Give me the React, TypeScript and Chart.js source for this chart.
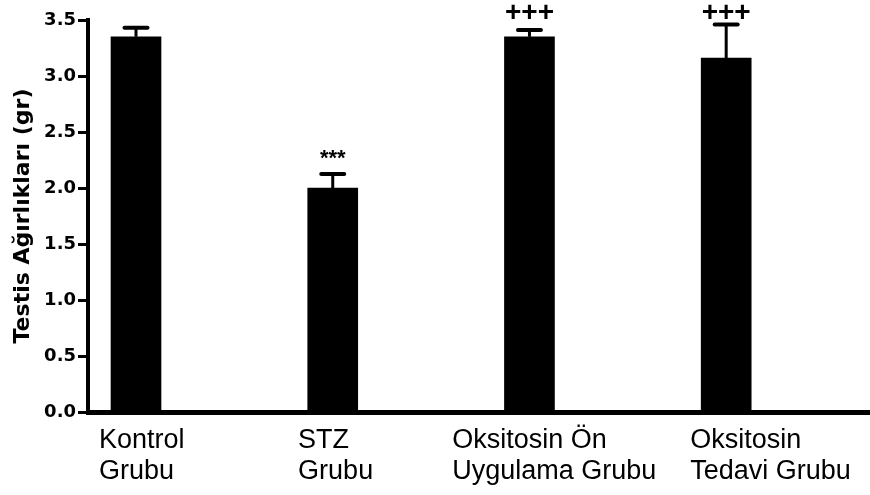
import React, { useEffect, useRef } from "react";
import { Chart, registerables } from "chart.js";

Chart.register(...registerables);

// ---- data ----
const categories: string[][] = [
  ["Kontrol", "Grubu"],
  ["STZ", "Grubu"],
  ["Oksitosin Ön", "Uygulama Grubu"],
  ["Oksitosin", "Tedavi Grubu"],
];
const means = [3.35, 2.0, 3.35, 3.16];
const sems = [0.08, 0.125, 0.06, 0.3];
const marks = ["", "***", "+++", "+++"];
const yTitle = "Testis Ağırlıkları (gr)";
const yMin = 0;
const yMax = 3.5;
const yStep = 0.5;

// ---- layout (label anchor shift from bar centre, in category units) ----
const labelShift = [-0.188, -0.176, -0.393, -0.183];

const errorBarPlugin = {
  id: "errorBars",
  afterDatasetsDraw(chart: any) {
    const meta = chart.getDatasetMeta(0);
    const ys = chart.scales.y;
    const ctx = chart.ctx;
    ctx.save();
    ctx.strokeStyle = "#000";
    ctx.fillStyle = "#000";
    meta.data.forEach((bar: any, i: number) => {
      const x = bar.x;
      const y0 = ys.getPixelForValue(means[i]);
      const y1 = ys.getPixelForValue(means[i] + sems[i]);
      ctx.lineCap = "butt";
      ctx.lineWidth = 3;
      ctx.beginPath();
      ctx.moveTo(x, y0);
      ctx.lineTo(x, y1);
      ctx.stroke();
      ctx.lineCap = "round";
      ctx.lineWidth = 4;
      ctx.beginPath();
      ctx.moveTo(x - 11.5, y1);
      ctx.lineTo(x + 11.5, y1);
      ctx.stroke();
      const m = marks[i];
      if (m) {
        const size = m.startsWith("*") ? 22 : 28;
        ctx.font = `bold ${size}px "Liberation Sans", Arial, sans-serif`;
        ctx.textAlign = "center";
        ctx.textBaseline = "alphabetic";
        const y = Math.max(y1 - 9, chart.chartArea.top + 1);
        ctx.fillText(m, x, y);
      }
    });
    ctx.restore();
  },
};

export default function App() {
  const ref = useRef<HTMLCanvasElement | null>(null);
  useEffect(() => {
    document.body.style.margin = "0";
    const canvas = ref.current!;
    const chart = new Chart(canvas, {
      type: "bar",
      data: {
        datasets: [
          {
            data: means.map((v, i) => ({ x: i, y: v })),
            backgroundColor: "#000",
            borderColor: "#000",
            borderWidth: 0,
            barThickness: 50,
          } as any,
        ],
      },
      options: {
        animation: false,
        responsive: false,
        maintainAspectRatio: false,
        layout: { padding: { top: 20, right: 0, left: 0, bottom: 0 } },
        plugins: { legend: { display: false }, tooltip: { enabled: false } },
        scales: {
          x: {
            type: "linear",
            min: -0.244,
            max: 3.731,
            offset: false,
            grid: { display: false, drawTicks: false, offset: false },
            border: { display: true, color: "#000", width: 5 },
            afterBuildTicks: (s: any) => {
              s.ticks = categories.map((_, i) => ({ value: i + labelShift[i] }));
            },
            afterFit: (s: any) => {
              s.height = 83;
            },
            ticks: {
              autoSkip: false,
              maxRotation: 0,
              minRotation: 0,
              align: "start",
              padding: 13,
              color: "#000",
              font: { family: '"Liberation Sans", Arial, sans-serif', size: 27, lineHeight: 1.15 },
              callback: (_v: any, i: number) => categories[i],
            },
          } as any,
          y: {
            min: yMin,
            max: yMax,
            grid: {
              drawOnChartArea: false,
              drawTicks: true,
              tickLength: 10,
              tickWidth: 3,
              tickColor: "#000",
            },
            border: { display: true, color: "#000", width: 4 },
            afterFit: (s: any) => {
              s.width = 88;
            },
            ticks: {
              stepSize: yStep,
              padding: 2,
              color: "#000",
              font: { family: '"DejaVu Sans", sans-serif', size: 18, weight: "bold" },
              callback: (v: any) => Number(v).toFixed(1),
            },
            title: {
              display: true,
              text: yTitle,
              color: "#000",
              padding: { top: 10, bottom: 0 },
              font: { family: '"DejaVu Sans", sans-serif', size: 22, weight: "bold" },
            },
          } as any,
        },
      },
      plugins: [errorBarPlugin],
    });
    return () => chart.destroy();
  }, []);
  return (
    <div style={{ width: 870, height: 495 }}>
      <canvas ref={ref} width={870} height={495} style={{ display: "block" }} />
    </div>
  );
}
